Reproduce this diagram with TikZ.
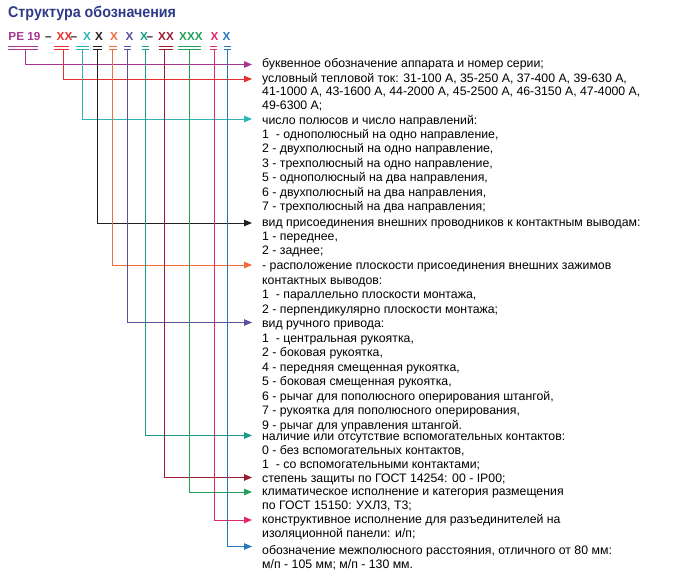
\documentclass[tikz,border=0pt]{standalone}
\usepackage{fontspec}
\setmainfont{Liberation Sans}
\newfontfamily\titlefont[FakeStretch=0.92]{Liberation Sans}
\usetikzlibrary{arrows.meta}
\definecolor{ctitle}{HTML}{2E3A87}
\definecolor{cmag}{HTML}{A8358F}
\definecolor{cred}{HTML}{E4312F}
\definecolor{cteal}{HTML}{2BB5B5}
\definecolor{cblack}{HTML}{231F20}
\definecolor{corange}{HTML}{F26B3A}
\definecolor{cpurple}{HTML}{5B4FA0}
\definecolor{cteal2}{HTML}{1A9B8A}
\definecolor{cdred}{HTML}{9B1B30}
\definecolor{cgreen}{HTML}{23A05A}
\definecolor{cpink}{HTML}{E0296B}
\definecolor{cblue}{HTML}{2577BE}
\tikzset{
  codetxt/.style={anchor=base west, inner sep=0pt, font=\fontsize{11.7}{13}\selectfont\bfseries},
  bodytxt/.style={anchor=base west, inner sep=0pt},
  uline/.style={line width=1.1pt},
  conn/.style={line width=1pt, -{Triangle[length=8pt,width=6.5pt]}},
}
\newcommand{\grp}[2][14.3]{{\fontsize{12.3}{#1}\selectfont\begin{tabular}[t]{@{}l@{}}#2\end{tabular}}}
\begin{document}
\begin{tikzpicture}[x=1pt,y=-1pt]
\useasboundingbox (0,0) rectangle (679,581);
\node[anchor=base west, inner sep=0pt, text=ctitle, font=\titlefont\fontsize{15.5}{17}\selectfont\bfseries] (title) at (8,17) {Структура обозначения};
% code row
\node[codetxt, text=cmag] (c1) at (8.3,40) {РЕ 19};
\node[codetxt, text=cblack] (d1) at (45,40) {–};
\node[codetxt, text=cred] (c2) at (56.5,40) {XX};
\node[codetxt, text=cblack] (d2) at (70.5,40) {–};
\node[codetxt, text=cteal] (c3) at (83,40) {X};
\node[codetxt, text=cblack] (c4) at (95,40) {X};
\node[codetxt, text=corange] (c5) at (110,40) {X};
\node[codetxt, text=cpurple] (c6) at (125.5,40) {X};
\node[codetxt, text=cteal2] (c7) at (140,40) {X};
\node[codetxt, text=cblack] (d3) at (146.5,40) {–};
\node[codetxt, text=cdred] (c8) at (158,40) {XX};
\node[codetxt, text=cgreen] (c9) at (179,40) {XXX};
\node[codetxt, text=cpink] (c10) at (210.5,40) {X};
\node[codetxt, text=cblue] (c11) at (222.5,40) {X};
% underlines
\foreach \a/\b/\c in {8.3/38.3/cmag, 54/69/cred, 76/89/cteal, 93/102/cblack, 109/117/corange, 124/131/cpurple, 141.7/149/cteal2, 159/172.7/cdred, 178/201/cgreen, 210/217/cpink, 224/231/cblue}{
  \draw[uline, \c] (\a,46.2) -- (\b,46.2);
  \draw[uline, \c] (\a,49.2) -- (\b,49.2);
}
% start coordinates
\coordinate (u1) at (25,49.5);
\coordinate (u2) at (63,49.5);
\coordinate (u3) at (82,49.5);
\coordinate (u4) at (97.7,49.5);
\coordinate (u5) at (112.5,49.5);
\coordinate (u6) at (127,49.5);
\coordinate (u7) at (145.7,49.5);
\coordinate (u8) at (164,49.5);
\coordinate (u9) at (189,49.5);
\coordinate (u10) at (214,49.5);
\coordinate (u11) at (227.5,49.5);
% tips
\coordinate (p1) at (252,64.5);
\coordinate (p2) at (252,79);
\coordinate (p3) at (252,119);
\coordinate (p4) at (252,223);
\coordinate (p5) at (252,265);
\coordinate (p6) at (252,322.5);
\coordinate (p7) at (252,435.5);
\coordinate (p8) at (252,477.5);
\coordinate (p9) at (252,492);
\coordinate (p10) at (252,520);
\coordinate (p11) at (252,546.5);
% texts
\node[bodytxt] (t1) at (262,67.5) {\grp{буквенное обозначение аппарата и номер серии;}};
\node[bodytxt] (t2) at (262,82) {\grp[13.8]{условный тепловой ток: 31-100 А, 35-250 А, 37-400 А, 39-630 А,\\41-1000 А, 43-1600 А, 44-2000 А, 45-2500 А, 46-3150 А, 47-4000 А,\\49-6300 А;}};
\node[bodytxt] (t3) at (262,124) {\grp[14.45]{число полюсов и число направлений:\\1\ \ - однополюсный на одно направление,\\2 - двухполюсный на одно направление,\\3 - трехполюсный на одно направление,\\5 - однополюсный на два направления,\\6 - двухполюсный на два направления,\\7 - трехполюсный на два направления;}};
\node[bodytxt] (t4) at (262,226.5) {\grp[14.2]{вид присоединения внешних проводников к контактным выводам:\\1 - переднее,\\2 - заднее;}};
\node[bodytxt] (t5) at (262,269.5) {\grp[14.6]{- расположение плоскости присоединения внешних зажимов\\контактных выводов:\\1\ \ - параллельно плоскости монтажа,\\2 - перпендикулярно плоскости монтажа;}};
\node[bodytxt] (t6) at (262,327.5) {\grp[14.55]{вид ручного привода:\\1\ \ - центральная рукоятка,\\2 - боковая рукоятка,\\4 - передняя смещенная рукоятка,\\5 - боковая смещенная рукоятка,\\6 - рычаг для пополюсного оперирования штангой,\\7 - рукоятка для пополюсного оперирования,\\9 - рычаг для управления штангой.}};
\node[bodytxt] (t7) at (262,440.5) {\grp[14]{наличие или отсутствие вспомогательных контактов:\\0 - без вспомогательных контактов,\\1\ \ - со вспомогательными контактами;}};
\node[bodytxt] (t8) at (262,482) {\grp{степень защиты по ГОСТ 14254: 00 - IP00;}};
\node[bodytxt] (t9) at (262,495.5) {\grp[14]{климатическое исполнение и категория размещения\\по ГОСТ 15150: УХЛ3, Т3;}};
\node[bodytxt] (t10) at (262,523.5) {\grp[13.6]{конструктивное исполнение для разъединителей на\\изоляционной панели: и/п;}};
\node[bodytxt] (t11) at (262,554.5) {\grp[14]{обозначение межполюсного расстояния, отличного от 80 мм:\\м/п - 105 мм; м/п - 130 мм.}};
% connectors
\draw[conn, cmag] (u1) |- (p1);
\draw[conn, cred] (u2) |- (p2);
\draw[conn, cteal] (u3) |- (p3);
\draw[conn, cblack] (u4) |- (p4);
\draw[conn, corange] (u5) |- (p5);
\draw[conn, cpurple] (u6) |- (p6);
\draw[conn, cteal2] (u7) |- (p7);
\draw[conn, cdred] (u8) |- (p8);
\draw[conn, cgreen] (u9) |- (p9);
\draw[conn, cpink] (u10) |- (p10);
\draw[conn, cblue] (u11) |- (p11);
\end{tikzpicture}
\end{document}
